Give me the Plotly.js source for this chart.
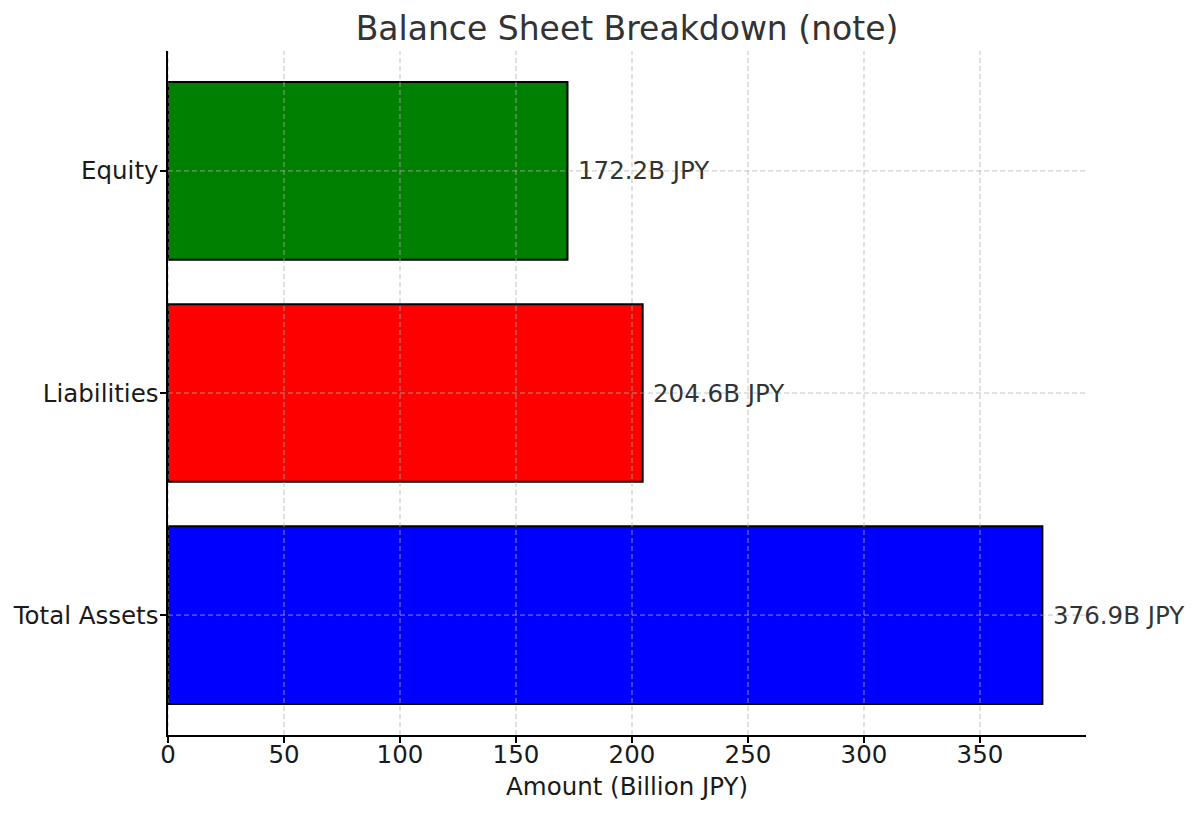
<!DOCTYPE html>
<html>
<head>
<meta charset="utf-8">
<script src="https://cdn.plot.ly/plotly-3.0.1.min.js"></script>
<style>
  html, body { margin: 0; padding: 0; background: #fff; }
  #chart { width: 1200px; height: 815px; }
</style>
</head>
<body>
<div id="chart"></div>
<script>
var categories = ["Total Assets", "Liabilities", "Equity"]
var amounts = [376.9, 204.6, 172.2]
var barColors = ["#0000ff", "#ff0000", "#008000"]
var xTicks = [0, 50, 100, 150, 200, 250, 300, 350]

var font = "DejaVu Sans, Verdana, sans-serif"
var gridStyle = { color: "rgba(176,176,176,0.75)", width: 1, dash: "5px,3px" }

// matplotlib draws its grid over the bars, so the grid is made of shapes
var shapes = []
xTicks.forEach(function (t) {
    shapes.push({
        type: "line", layer: "above",
        xref: "x", yref: "paper",
        x0: t, x1: t, y0: 0, y1: 1,
        line: gridStyle,
    })
})
categories.forEach(function (c) {
    shapes.push({
        type: "line", layer: "above",
        xref: "paper", yref: "y",
        x0: 0, x1: 1, y0: c, y1: c,
        line: gridStyle,
    })
})

var annotations = categories.map(function (c, i) {
    return {
        x: amounts[i] + 5,
        y: c,
        xref: "x",
        yref: "y",
        text: amounts[i].toFixed(1) + "B JPY",
        showarrow: false,
        xanchor: "left",
        yanchor: "middle",
        xshift: -3,
        font: { family: font, size: 24.5, color: "#333333" },
    }
})

Plotly.newPlot(
    document.getElementById("chart"),
    [{
        type: "bar",
        orientation: "h",
        x: amounts,
        y: categories,
        marker: {
            color: barColors,
            line: { color: "#000000", width: 2 },
        },
        hoverinfo: "x+y",
    }],
    {
        width: 1200,
        height: 815,
        margin: { l: 168, r: 114, t: 51, b: 80 },
        paper_bgcolor: "#ffffff",
        plot_bgcolor: "#ffffff",
        bargap: 0.2,
        showlegend: false,
        title: {
            text: "Balance Sheet Breakdown (note)",
            font: { family: font, size: 33, color: "#333333" },
            x: 0.5225,
            xanchor: "center",
            y: 0.965,
            yanchor: "middle",
        },
        xaxis: {
            range: [0, 395.7],
            tickvals: xTicks,
            ticktext: xTicks.map(String),
            showgrid: false,
            zeroline: false,
            showline: true,
            linecolor: "#000000",
            linewidth: 1.6,
            ticks: "outside",
            ticklen: 6,
            tickwidth: 1.3,
            tickcolor: "#000000",
            ticklabelstandoff: -9,
            tickfont: { family: font, size: 24.5, color: "#1a1a1a" },
            title: {
                text: "Amount (Billion JPY)",
                font: { family: font, size: 24.5, color: "#1a1a1a" },
                standoff: 10,
            },
        },
        yaxis: {
            type: "category",
            range: [-0.54, 2.54],
            showgrid: false,
            zeroline: false,
            showline: true,
            linecolor: "#000000",
            linewidth: 1.6,
            ticks: "outside",
            ticklen: 6,
            tickwidth: 1.3,
            tickcolor: "#000000",
            ticklabelstandoff: -3,
            tickfont: { family: font, size: 24.5, color: "#1a1a1a" },
        },
        shapes: shapes,
        annotations: annotations,
    },
    { displayModeBar: false, staticPlot: true }
)
</script>
</body>
</html>
